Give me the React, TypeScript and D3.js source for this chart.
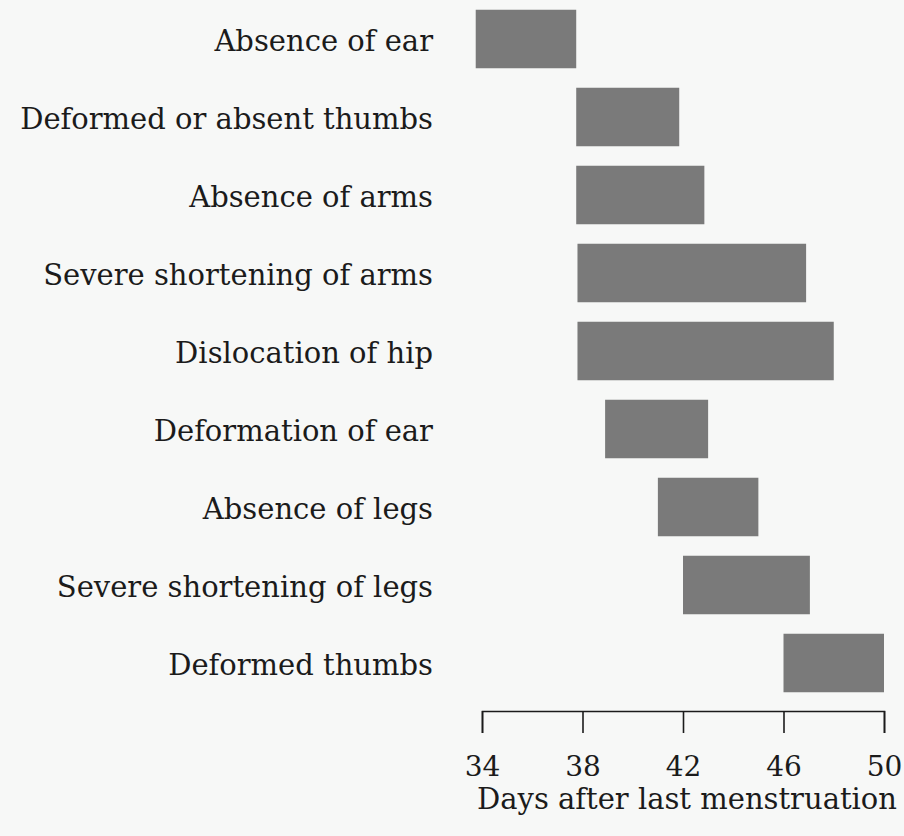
import React, { useEffect, useRef } from "react";
import * as d3 from "d3";

// defects, listed top to bottom
const defects = [
	"Absence of ear",
	"Deformed or absent thumbs",
	"Absence of arms",
	"Severe shortening of arms",
	"Dislocation of hip",
	"Deformation of ear",
	"Absence of legs",
	"Severe shortening of legs",
	"Deformed thumbs",
];

// sensitive window, days after last menstruation
const startDays = [33.75, 37.75, 37.75, 37.8, 37.8, 38.9, 41, 42, 46];
const endDays = [37.75, 41.85, 42.85, 46.9, 48, 43, 45, 47.05, 50];

const dayTicks = [34, 38, 42, 46, 50];
const axisTitle = "Days after last menstruation";

const App = () => {
	const ref = useRef<SVGSVGElement>(null);

	useEffect(() => {
		const width = 904;
		const height = 836;
		const font = "'DejaVu Serif', serif";
		const ink = "#1b1b1b";

		const svg = d3.select(ref.current);
		svg.selectAll("*").remove();

		svg.append("rect").attr("width", width).attr("height", height).attr("fill", "#f7f8f7");

		const x = d3.scaleLinear().domain([34, 50]).range([482, 884]);

		const y = d3.scaleBand<string>().domain(defects).range([0, 702]).paddingInner(0.25).paddingOuter(0.125);

		const rows = defects.map((name, i) => ({ name, start: startDays[i], end: endDays[i] }));

		svg
			.append("g")
			.selectAll("rect")
			.data(rows)
			.join("rect")
			.attr("x", (d) => x(d.start))
			.attr("y", (d) => y(d.name)!)
			.attr("width", (d) => x(d.end) - x(d.start))
			.attr("height", y.bandwidth())
			.attr("fill", "#7a7a7a");

		svg
			.append("g")
			.selectAll("text")
			.data(rows)
			.join("text")
			.attr("x", 433)
			.attr("y", (d) => y(d.name)! + y.bandwidth() / 2 + 12)
			.attr("text-anchor", "end")
			.attr("font-family", font)
			.attr("font-size", 29)
			.attr("fill", ink)
			.text((d) => d.name);

		const axis = svg
			.append("g")
			.attr("transform", "translate(0,711)")
			.call(d3.axisBottom(x).tickValues(dayTicks).tickSize(22).tickSizeOuter(22).tickPadding(23));

		axis.selectAll("path, line").attr("stroke", ink).attr("stroke-width", 1.6);
		axis
			.selectAll("text")
			.attr("font-family", font)
			.attr("font-size", 28)
			.attr("fill", ink);

		svg
			.append("text")
			.attr("x", (x(34) + x(50)) / 2 + 4)
			.attr("y", 809)
			.attr("text-anchor", "middle")
			.attr("font-family", font)
			.attr("font-size", 29)
			.attr("fill", ink)
			.text(axisTitle);
	}, []);

	return <svg ref={ref} width={904} height={836} style={{ position: "absolute", left: 0, top: 0 }}></svg>;
};

export default App;
